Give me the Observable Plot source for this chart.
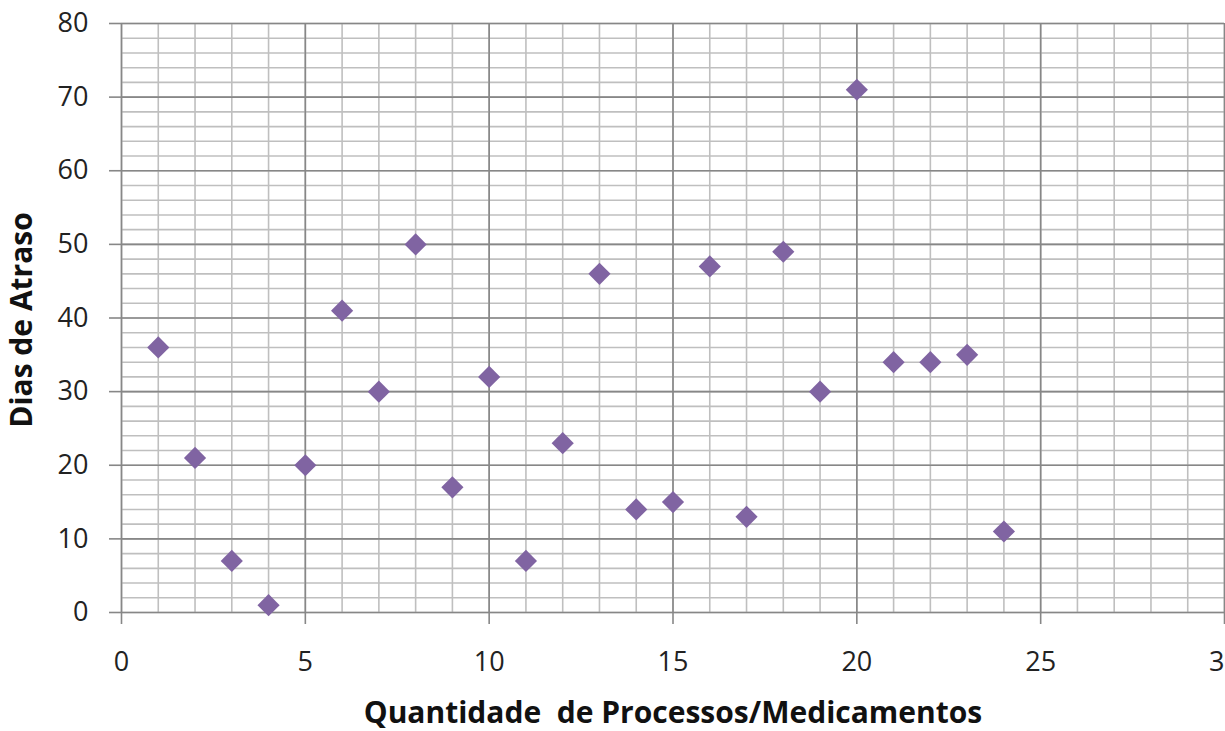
<!DOCTYPE html>
<html>
<head>
<meta charset="utf-8">
<script src="https://cdn.jsdelivr.net/npm/d3@7"></script>
<script src="https://cdn.jsdelivr.net/npm/@observablehq/plot@0.6"></script>
<style>
  html, body { margin: 0; padding: 0; background: #fff; overflow: hidden; }
  #chart svg { display: block; overflow: visible; }
</style>
</head>
<body>
<div id="chart"></div>
<script>
const quantidade = [1, 2, 3, 4, 5, 6, 7, 8, 9, 10, 11, 12, 13, 14, 15, 16, 17, 18, 19, 20, 21, 22, 23, 24];
const diasAtraso = [36, 21, 7, 1, 20, 41, 30, 50, 17, 32, 7, 23, 46, 14, 15, 47, 13, 49, 30, 71, 34, 34, 35, 11];

const xMajorTicks = [0, 5, 10, 15, 20, 25, 30];
const yMajorTicks = [0, 10, 20, 30, 40, 50, 60, 70, 80];
const xMinorTicks = [0,1,2,3,4,5,6,7,8,9,10,11,12,13,14,15,16,17,18,19,20,21,22,23,24,25,26,27,28,29,30];
const yMinorTicks = [0,2,4,6,8,10,12,14,16,18,20,22,24,26,28,30,32,34,36,38,40,42,44,46,48,50,52,54,56,58,60,62,64,66,68,70,72,74,76,78,80];

const xTitle = "Quantidade  de Processos/Medicamentos";
const yTitle = "Dias de Atraso";

const data = quantidade.map((q, i) => ({x: q, y: diasAtraso[i]}));

const font = "'Open Sans', 'Noto Sans', sans-serif";

const chart = Plot.plot({
  width: 1225,
  height: 731,
  marginLeft: 121,
  marginRight: 1,
  marginTop: 23,
  marginBottom: 119,
  style: {fontFamily: font, background: "#fff", color: "#222"},
  x: {domain: [0, 30], axis: null},
  y: {domain: [0, 80], axis: null},
  marks: [
    Plot.gridX(xMinorTicks, {stroke: "#bfbfbf", strokeOpacity: 1, strokeWidth: 1.6}),
    Plot.gridY(yMinorTicks, {stroke: "#bfbfbf", strokeOpacity: 1, strokeWidth: 1.6}),
    Plot.gridX(xMajorTicks, {stroke: "#878787", strokeOpacity: 1, strokeWidth: 1.6}),
    Plot.gridY(yMajorTicks, {stroke: "#878787", strokeOpacity: 1, strokeWidth: 1.6}),
    Plot.axisX(xMajorTicks, {tickSize: 12, tickPadding: 27, stroke: "#878787", strokeWidth: 1.6, fontSize: 27, fill: "#222", label: null}),
    Plot.axisY(yMajorTicks, {tickSize: 12, tickPadding: 21, stroke: "#878787", strokeWidth: 1.6, fontSize: 27, fill: "#222", label: null}),
    Plot.dot(data, {x: "x", y: "y", symbol: "diamond2", r: 10, fill: "#8064A2", stroke: "none"}),
    Plot.text([xTitle], {frameAnchor: "bottom", dy: 101, fontSize: 30, fontWeight: "bold", fill: "#111", lineAnchor: "middle"}),
    Plot.text([yTitle], {frameAnchor: "left", dx: -99, dy: 2, rotate: -90, fontSize: 30, fontWeight: "bold", fill: "#111", lineAnchor: "middle", textAnchor: "middle"})
  ]
});
document.getElementById("chart").appendChild(chart);
</script>
</body>
</html>
